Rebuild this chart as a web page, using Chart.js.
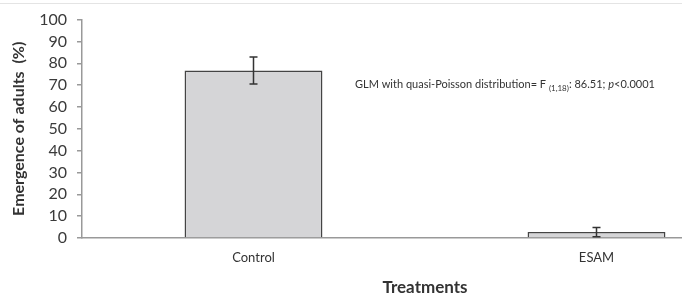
<!DOCTYPE html>
<html>
<head>
<meta charset="utf-8">
<script src="https://cdn.jsdelivr.net/npm/chart.js@4"></script>
<style>
  html, body { margin: 0; padding: 0; background: #fff; overflow: hidden; }
  #wrap { position: relative; width: 772px; height: 298px; }
  #topline { position: absolute; left: 0; top: 3px; width: 682px; height: 1px; background: #e4e4e4; }
</style>
</head>
<body>
<div id="wrap">
  <canvas id="chart"></canvas>
  <div id="topline"></div>
</div>
<script>
// ── Données ─────────────────────────────────────────────────
var treatments = ['Control', 'ESAM'];
var emergence  = [76.7, 2.7];     // moyenne (%)
var errors     = [6.2, 2.1];      // erreur standard
var yTicks     = [0, 10, 20, 30, 40, 50, 60, 70, 80, 90, 100];

var FONT = 'Lato, "Open Sans", sans-serif';

// ── Barres d'erreur ─────────────────────────────────────────
var errorBars = {
    id: 'errorBars',
    afterDatasetsDraw: function (chart) {
        var ctx  = chart.ctx;
        var y    = chart.scales.y;
        var meta = chart.getDatasetMeta(0);
        ctx.save();
        ctx.strokeStyle = '#333';
        ctx.lineWidth = 1.5;
        meta.data.forEach(function (bar, i) {
            var top = y.getPixelForValue(emergence[i] + errors[i]);
            var bot = y.getPixelForValue(Math.max(0, emergence[i] - errors[i]));
            ctx.beginPath();
            ctx.moveTo(bar.x, top); ctx.lineTo(bar.x, bot);
            ctx.moveTo(bar.x - 4, top); ctx.lineTo(bar.x + 4, top);
            ctx.moveTo(bar.x - 4, bot); ctx.lineTo(bar.x + 4, bot);
            ctx.stroke();
        });
        ctx.restore();
    }
};

// ── Annotation statistique ──────────────────────────────────
var statText = {
    id: 'statText',
    afterDraw: function (chart) {
        var ctx = chart.ctx;
        var x = 355, yb = 88;
        ctx.save();
        ctx.fillStyle = '#333';
        ctx.textBaseline = 'alphabetic';
        ctx.font = '11px ' + FONT;
        var s1 = 'GLM with quasi-Poisson distribution= F ';
        ctx.fillText(s1, x, yb); x += ctx.measureText(s1).width;
        ctx.font = '8px ' + FONT;
        var sub = '(1,18)';
        ctx.fillText(sub, x, yb + 3); x += ctx.measureText(sub).width;
        ctx.font = '11px ' + FONT;
        var s2 = ': 86.51; ';
        ctx.fillText(s2, x, yb); x += ctx.measureText(s2).width;
        ctx.font = 'italic 11px ' + FONT;
        ctx.fillText('p', x, yb); x += ctx.measureText('p').width;
        ctx.font = '11px ' + FONT;
        ctx.fillText('<0.0001', x, yb);
        ctx.restore();
    }
};

new Chart(document.getElementById('chart'), {
    type: 'bar',
    data: {
        labels: treatments,
        datasets: [{
            data: emergence,
            backgroundColor: '#d5d5d7',
            borderColor: '#444',
            borderWidth: { top: 1.5, left: 1.5, right: 1.5, bottom: 0 },
            borderSkipped: false,
            categoryPercentage: 1,
            barPercentage: 0.402
        }]
    },
    options: {
        responsive: true,
        maintainAspectRatio: false,
        animation: false,
        layout: { padding: { top: 8, right: 4, bottom: 0, left: 0 } },
        plugins: { legend: { display: false }, tooltip: { enabled: false } },
        scales: {
            x: {
                grid: { display: false },
                border: { color: '#999', width: 1.5 },
                ticks: { color: '#333', font: { family: FONT, size: 13 }, padding: 4 },
                title: {
                    display: true, text: 'Treatments', color: '#333',
                    font: { family: FONT, size: 17, weight: 'bold' }, padding: { top: 10, bottom: 0 }
                },
                afterFit: function (s) { s.height = 60; }
            },
            y: {
                min: 0, max: 100,
                afterBuildTicks: function (s) { s.ticks = yTicks.map(function (v) { return { value: v }; }); },
                grid: { drawOnChartArea: false, tickLength: 5, color: '#999', lineWidth: 1.5 },
                border: { color: '#999', width: 1.5 },
                ticks: { color: '#3a3a3a', font: { family: FONT, size: 16 }, padding: 10, autoSkip: false },
                title: {
                    display: true, text: 'Emergence of adults  (%)', color: '#333',
                    font: { family: FONT, size: 16, weight: 'bold' }, padding: { top: 9, bottom: 4 }
                },
                afterFit: function (s) { s.width = 82; }
            }
        }
    },
    plugins: [errorBars, statText]
});
</script>
</body>
</html>
